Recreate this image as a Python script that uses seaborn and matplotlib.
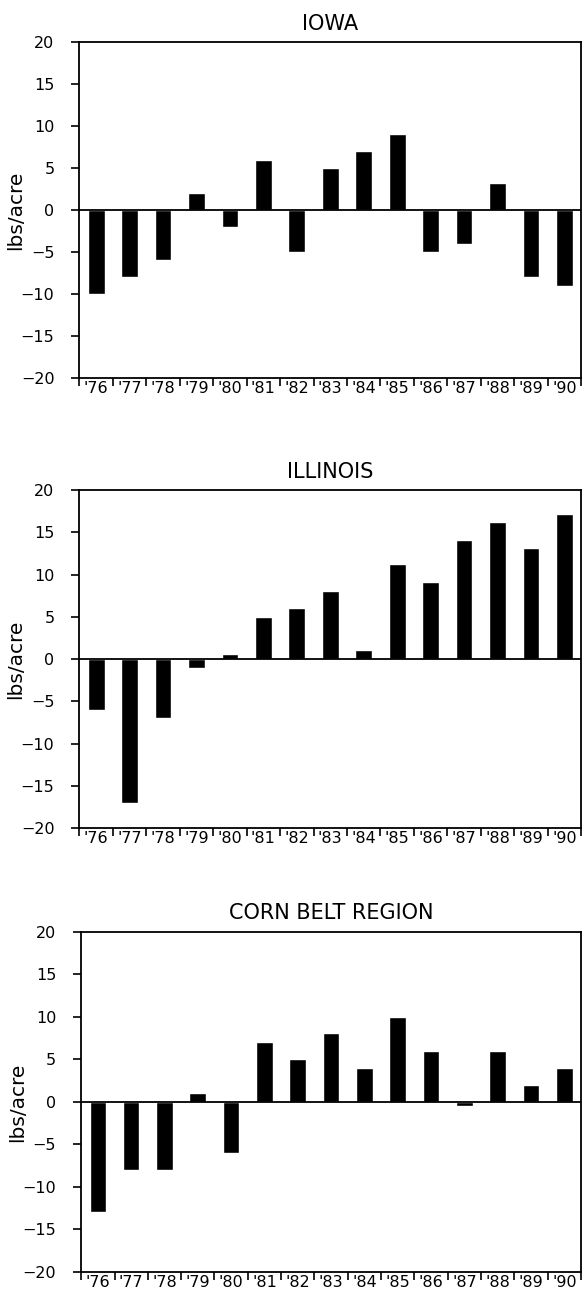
import numpy as np
import pandas as pd
import matplotlib
matplotlib.use("Agg")
import matplotlib.pyplot as plt
from matplotlib.ticker import FixedLocator
import seaborn as sns

# ---- data ----
years = ["'76", "'77", "'78", "'79", "'80", "'81", "'82", "'83",
         "'84", "'85", "'86", "'87", "'88", "'89", "'90"]
iowa = [-10, -8, -6, 2, -2, 6, -5, 5, 7, 9.1, -5, -4, 3.2, -8, -9]
illinois = [-6, -17, -7, -1, 0.6, 5, 6, 8, 1.1, 11.2, 9.1, 14.1, 16.2, 13.2, 17.2]
corn_belt = [-13, -8, -8, 1, -6, 7, 5, 8.1, 4, 10, 6, -0.5, 6, 2, 4]

panels = [("IOWA", iowa), ("ILLINOIS", illinois), ("CORN BELT REGION", corn_belt)]
yticks = [-20, -15, -10, -5, 0, 5, 10, 15, 20]

sns.set_theme(style="ticks")
plt.rcParams["font.family"] = ["DejaVu Sans"]
plt.rcParams["text.color"] = "black"
plt.rcParams["axes.labelcolor"] = "black"
plt.rcParams["xtick.color"] = "black"
plt.rcParams["ytick.color"] = "black"

fig = plt.figure(figsize=(5.84, 12.89), dpi=100)
# axes boxes in figure fraction (left, bottom, width, height)
boxes = [(0.136, 0.7068, 0.859, 0.2606),
         (0.136, 0.3576, 0.859, 0.2622),
         (0.139, 0.0132, 0.856, 0.2638)]

for (title, vals), box in zip(panels, boxes):
    ax = fig.add_axes(box)
    df = pd.DataFrame({"year": years, "value": vals})
    sns.barplot(data=df, x="year", y="value", color="black", width=0.5,
                saturation=1, ax=ax)
    ax.set_xlim(-0.5, len(years) - 0.5)
    ax.set_ylim(-20, 20)
    ax.set_yticks(yticks)
    ax.set_yticklabels([("\u2212" + str(-t)) if t < 0 else str(t) for t in yticks])
    ax.axhline(0, color="black", lw=1.3, zorder=3)

    # boundary ticks between categories, labels centred in each slot
    ax.xaxis.set_minor_locator(FixedLocator(np.arange(-0.5, len(years), 1.0)))
    ax.tick_params(axis="x", which="major", length=0, pad=2, labelsize=11.5)
    ax.tick_params(axis="x", which="minor", length=6, width=1.2, direction="out")
    ax.tick_params(axis="y", length=6, width=1.2, direction="out", labelsize=11.5, pad=12)

    for s in ax.spines.values():
        s.set_visible(True)
        s.set_color("black")
        s.set_linewidth(1.3)

    ax.set_xlabel("")
    ax.set_ylabel("lbs/acre", fontsize=14.5)
    ax.yaxis.set_label_coords(-0.108, 0.5)
    ax.set_title(title, fontsize=15, pad=9)

fig.savefig("out.png", dpi=100, facecolor="white")
